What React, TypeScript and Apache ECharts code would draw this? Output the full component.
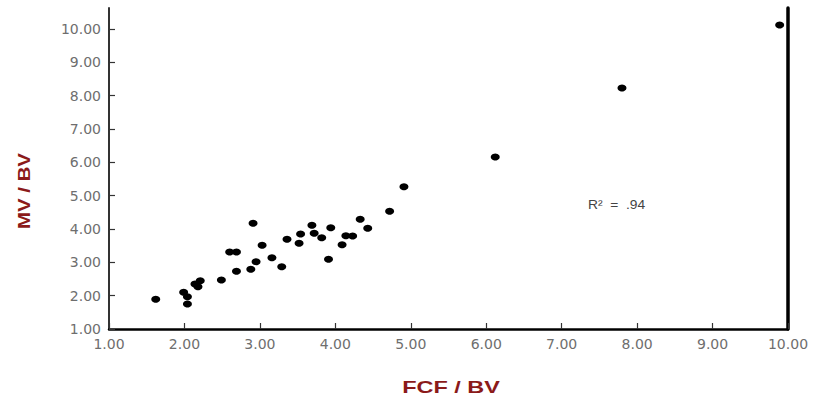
import React, { useEffect, useRef } from "react";
import * as echarts from "echarts";

const fcfBv = [1.62, 1.99, 2.04, 2.04, 2.14, 2.21, 2.18, 2.49, 2.60, 2.69, 2.69, 2.88, 2.91, 2.95, 3.03, 3.16, 3.29, 3.36, 3.52, 3.54, 3.69, 3.72, 3.82, 3.94, 3.91, 4.09, 4.14, 4.23, 4.33, 4.43, 4.72, 4.91, 6.12, 7.80, 9.89];
const mvBv = [1.89, 2.10, 1.97, 1.75, 2.35, 2.45, 2.27, 2.47, 3.31, 3.31, 2.73, 2.79, 4.17, 3.02, 3.51, 3.14, 2.87, 3.69, 3.57, 3.85, 4.11, 3.87, 3.74, 4.04, 3.09, 3.53, 3.80, 3.79, 4.29, 4.02, 4.53, 5.27, 6.16, 8.23, 10.12];
const tickValues = [1, 2, 3, 4, 5, 6, 7, 8, 9, 10];
const rSquaredLabel = "R\u00B2  =  .94";
const xName = "FCF / BV";
const yName = "MV / BV";

export default function App() {
  const ref = useRef<HTMLDivElement>(null);
  useEffect(() => {
    if (!ref.current) return;
    const chart = echarts.init(ref.current, null, { renderer: "svg" });
    const labelStyle = {
      color: "#6e6e6e",
      fontFamily: "DejaVu Sans, sans-serif",
      fontSize: 14,
    };
    const nameColor = "#8B1A1A";
    chart.setOption({
      animation: false,
      backgroundColor: "#fff",
      grid: { left: 109, right: 29, top: 8, bottom: 69, containLabel: false, outerBoundsMode: "none" },
      xAxis: {
        type: "value",
        min: 1,
        max: 10,
        interval: 1,
        axisLine: { show: true, lineStyle: { color: "#000", width: 2.5 } },
        axisTick: { show: true, inside: true, length: 6, lineStyle: { color: "#333", width: 1.2 } },
        axisLabel: { ...labelStyle, margin: 8, formatter: (v: number) => v.toFixed(2) },
        splitLine: { show: false },
      },
      yAxis: [
        {
          type: "value",
          min: 1,
          max: 10.63,
          axisLine: { show: true, onZero: false, lineStyle: { color: "#333", width: 2 } },
          axisTick: { show: true, inside: true, length: 6, customValues: tickValues, lineStyle: { color: "#333", width: 1.2 } },
          axisLabel: { ...labelStyle, margin: 8, customValues: tickValues, formatter: (v: number) => v.toFixed(2) },
          splitLine: { show: false },
        },
        {
          type: "value",
          min: 1,
          max: 10.63,
          position: "right",
          axisLine: { show: true, onZero: false, lineStyle: { color: "#000", width: 3.5 } },
          axisTick: { show: false },
          axisLabel: { show: false },
          splitLine: { show: false },
        },
      ],
      series: [
        {
          type: "scatter",
          yAxisIndex: 0,
          symbol: "circle",
          symbolSize: [9, 7],
          itemStyle: { color: "#000", opacity: 1 },
          data: fcfBv.map((x, i) => [x, mvBv[i]]),
        },
      ],
      graphic: [
        {
          type: "text",
          x: 588,
          y: 205,
          scaleX: 1.15,
          style: {
            text: rSquaredLabel,
            fill: "#444",
            font: "12px Liberation Sans, Arial, sans-serif",
            align: "left",
            verticalAlign: "middle",
          },
        },
        {
          type: "text",
          x: 451,
          y: 387,
          scaleX: 1.38,
          style: {
            text: xName,
            fill: nameColor,
            font: "bold 17px Liberation Sans, Arial, sans-serif",
            align: "center",
            verticalAlign: "middle",
          },
        },
        {
          type: "text",
          x: 24,
          y: 191,
          rotation: Math.PI / 2,
          scaleX: 1.2,
          style: {
            text: yName,
            fill: nameColor,
            font: "bold 17px Liberation Sans, Arial, sans-serif",
            align: "center",
            verticalAlign: "middle",
          },
        },
      ],
    });
    return () => chart.dispose();
  }, []);
  return <div ref={ref} style={{ width: 817, height: 398, position: "absolute", left: 0, top: 0 }} />;
}
